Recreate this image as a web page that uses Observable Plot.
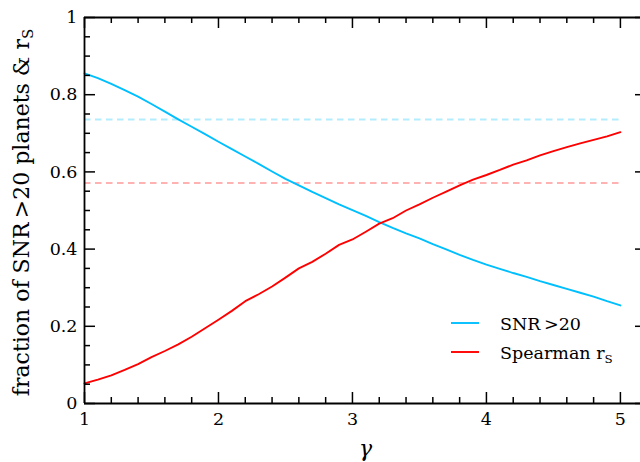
<!DOCTYPE html>
<html><head><meta charset="utf-8">
<script src="https://cdn.jsdelivr.net/npm/d3@7"></script>
<script src="https://cdn.jsdelivr.net/npm/@observablehq/plot@0.6"></script>
<style>
html,body{margin:0;padding:0;background:#fff;}
#chart{width:640px;height:462px;overflow:hidden;}
</style></head><body><div id="chart"></div>
<script>
// ---- data ----
const gamma = [1.0,1.1,1.2,1.3,1.4,1.5,1.6,1.7,1.8,1.9,2.0,2.1,2.2,2.3,2.4,2.5,2.6,2.7,2.8,2.9,3.0,
               3.1,3.2,3.3,3.4,3.5,3.6,3.7,3.8,3.9,4.0,4.1,4.2,4.3,4.4,4.5,4.6,4.7,4.8,4.9,5.0];
const snrFrac = [0.855,0.843,0.828,0.812,0.795,0.776,0.756,0.736,0.717,0.698,0.678,0.659,0.640,0.621,0.601,0.582,0.565,0.548,0.532,0.516,0.501,
                 0.486,0.470,0.455,0.441,0.428,0.413,0.399,0.385,0.372,0.360,0.349,0.338,0.328,0.317,0.307,0.297,0.287,0.277,0.265,0.254];
const spearman = [0.052,0.062,0.073,0.087,0.102,0.120,0.136,0.153,0.173,0.195,0.217,0.240,0.265,0.283,0.303,0.326,0.350,0.367,0.388,0.411,0.425,
                  0.445,0.466,0.480,0.500,0.516,0.533,0.549,0.565,0.580,0.592,0.605,0.619,0.630,0.643,0.654,0.664,0.674,0.683,0.692,0.703];
const snrRef = 0.736;
const spearmanRef = 0.571;
const xMajor = [1,2,3,4,5];
const xTickLabels = ["1","2","3","4","5"];
const yMajor = [0,0.2,0.4,0.6,0.8,1];
const yTickLabels = ["0","0.2","0.4","0.6","0.8","1"];
const legendLabels = ["SNR\u2009>20", "Spearman r"];
const yLabel = "fraction of SNR\u2009>20 planets & r";
const xLabel = "γ";

// ---- style ----
const blue = "#00bfff", red = "#ff0000";
const W = 640, H = 462, mL = 84, mT = 17, mR = 0, mB = 59;
const frameW = W - mL - mR, frameH = H - mT - mB;
const majorLen = 11, minorLen = 6;
const font = '"DejaVu Serif", serif';
const xMinor = d3.range(1, 5.2001, 0.2).map(v => +v.toFixed(2)).filter(v => Math.abs(v - Math.round(v)) > 1e-6);
const yMinor = d3.range(0, 1.0001, 0.05).map(v => +v.toFixed(2)).filter(v => Math.abs(v*5 - Math.round(v*5)) > 1e-6);

const tickStyle = {stroke: "black", strokeWidth: 1.5};
const plot = Plot.plot({
  width: W, height: H, marginLeft: mL, marginTop: mT, marginRight: mR, marginBottom: mB,
  style: {fontFamily: font, fontSize: "17.5px", background: "white", color: "black", overflow: "visible"},
  x: {domain: [1, 5.15]},
  y: {domain: [0, 1]},
  marks: [
    Plot.ruleY([snrRef], {x1: 1, x2: 5, stroke: blue, strokeOpacity: 0.3, strokeDasharray: "6.5,4.5", strokeWidth: 2}),
    Plot.ruleY([spearmanRef], {x1: 1, x2: 5, stroke: red, strokeOpacity: 0.3, strokeDasharray: "6.5,4.5", strokeWidth: 2}),
    Plot.line(gamma, {x: d => d, y: (d, i) => snrFrac[i], stroke: blue, strokeWidth: 1.9}),
    Plot.line(gamma, {x: d => d, y: (d, i) => spearman[i], stroke: red, strokeWidth: 1.9}),
    // inward ticks
    Plot.tickX(xMajor, {x: d => d, insetTop: frameH - majorLen, ...tickStyle}),
    Plot.tickX(xMajor, {x: d => d, insetBottom: frameH - majorLen, ...tickStyle}),
    Plot.tickX(xMinor, {x: d => d, insetTop: frameH - minorLen, ...tickStyle}),
    Plot.tickX(xMinor, {x: d => d, insetBottom: frameH - minorLen, ...tickStyle}),
    Plot.tickY(yMajor, {y: d => d, insetRight: frameW - majorLen, ...tickStyle}),
    Plot.tickY(yMinor, {y: d => d, insetRight: frameW - minorLen, ...tickStyle}),
    Plot.tickY(yMajor, {y: d => d, insetLeft: frameW - 5, ...tickStyle}),
    // spines
    Plot.ruleX([1], {stroke: "black", strokeWidth: 1.8}),
    Plot.ruleY([0, 1], {stroke: "black", strokeWidth: 1.8}),
    // tick labels
    Plot.axisX(xMajor, {tickSize: 0, tickPadding: 9, label: null, fontSize: 17.5, tickFormat: d => xTickLabels[xMajor.indexOf(d)]}),
    Plot.axisY(yMajor, {tickSize: 0, tickPadding: 7, label: null, fontSize: 17.5, tickFormat: d => yTickLabels[yMajor.indexOf(d)]}),
    // axis titles
    Plot.text([yLabel], {text: d => d, frameAnchor: "left", textAnchor: "middle", lineAnchor: "middle", dx: -63, dy: 2, rotate: -90, fontSize: 22}),
    Plot.text([xLabel], {text: d => d, frameAnchor: "bottom", textAnchor: "middle", lineAnchor: "middle", dx: 3, dy: 45, fontSize: 22, fontStyle: "italic"})
  ]
});
document.getElementById("chart").appendChild(plot);

const svg = d3.select(plot);
// subscript S on y label
svg.selectAll("text").filter(function() { return this.textContent === yLabel; })
  .append("tspan").attr("dy", "0.3em").attr("font-size", "0.68em").text("S");

// legend
const legendItems = [{label: legendLabels[0], color: blue, sub: null}, {label: legendLabels[1], color: red, sub: "S"}];
const lg = svg.append("g").attr("font-family", font).attr("font-size", 17.5).attr("text-anchor", "start");
legendItems.forEach((it, i) => {
  const y = 323 + i * 29;
  lg.append("line").attr("x1", 451).attr("x2", 479).attr("y1", y).attr("y2", y)
    .attr("stroke", it.color).attr("stroke-width", 1.9);
  const t = lg.append("text").attr("x", 500).attr("y", y + 7).attr("fill", "black").text(it.label);
  if (it.sub) t.append("tspan").attr("dy", "0.3em").attr("font-size", "0.68em").text(it.sub);
});
</script></body></html>
